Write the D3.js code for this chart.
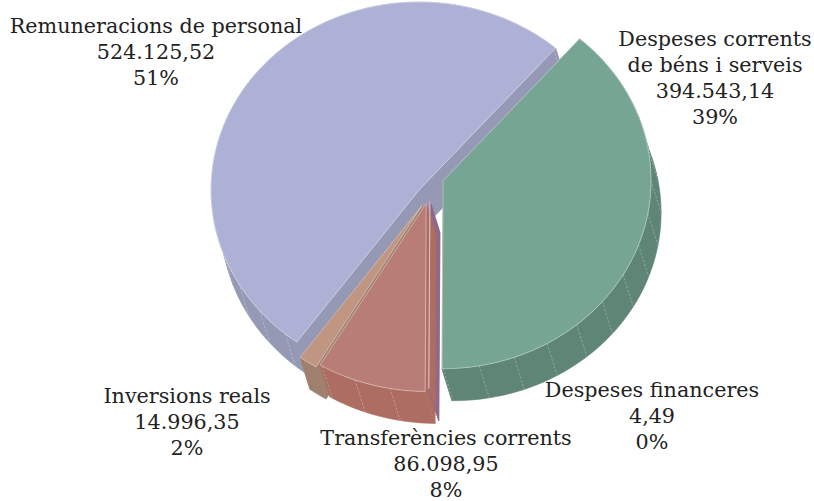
<!DOCTYPE html>
<html>
    <head>
        <meta charset="utf-8">
        <title></title>
        <script src="https://d3js.org/d3.v7.min.js"></script>
    </head>

    <body style="margin:0; background:#fff">
        <svg id="pie3d" width="814" height="501"></svg>
    </body>

    <script>

        // data, clockwise from the first slice
        var categories = ["Remuneracions de personal", "Despeses corrents de béns i serveis", "Despeses financeres", "Transferències corrents", "Inversions reals"]
        var values = [524125.52, 394543.14, 4.49, 86098.95, 14996.35]
        // label lines as shown next to each slice
        var labelLines = [["Remuneracions de personal"], ["Despeses corrents", "de béns i serveis"], ["Despeses financeres"], ["Transferències corrents"], ["Inversions reals"]]

        // colours (top face, side face)
        var topColors = ["#adb1d5", "#76a593", "#9a6f8f", "#b97d77", "#c09683"]
        var sideColors = ["#9599b5", "#5e8575", "#926888", "#ad6d62", "#9f7f6d"]

        // pie geometry
        var cx = 430, cy = 188
        var rx = 208, ry = 188
        var depth = [10, 32]
        // explosion, with a small lift for slices on the right (view rotation)
        var explodeX = 14, explodeY = 12.5, explodeLift = 12.5
        var firstAngle = 216

        // label anchors (centre of first line)
        var labelPos = [[156, 25], [715, 38], [652, 389], [446, 437], [187, 395]]

        var svg = d3.select("#pie3d")

        var total = d3.sum(values)
        var locale = d3.formatLocale({decimal: ",", thousands: ".", grouping: [3], currency: ["", ""]})
        var fmt = locale.format(",.2f")

        // whole percentages that add up to 100 (largest remainder)
        var raw = values.map(function(v) { return v / total * 100 })
        var pct = raw.map(Math.floor)
        var left = 100 - d3.sum(pct)
        d3.range(values.length)
        .sort(function(a, b) { return (raw[b] - pct[b]) - (raw[a] - pct[a]) })
        .slice(0, left)
        .forEach(function(i) { pct[i] += 1 })

        var pie = d3.pie()
        .sort(null)
        .startAngle(firstAngle * Math.PI / 180)
        .endAngle((firstAngle + 360) * Math.PI / 180)
        .value(function(d) { return d })

        var arcs = pie(values)

        // point on the tilted rim for angle a (clockwise from top)
        function rim(c, a) {
            return [c[0] + rx * Math.sin(a), c[1] - ry * Math.cos(a)]
        }
        function down(p) {
            return [p[0] + depth[0], p[1] + depth[1]]
        }

        var faces = []
        var tops = []
        var labels = []

        arcs.forEach(function(d, i) {
            var mid = (d.startAngle + d.endAngle) / 2
            var c = [cx + explodeX * Math.sin(mid), cy - explodeY * Math.cos(mid) - explodeLift * Math.sin(mid)]

            // sample the arc, breaking at every 10 degrees for the facets
            var step = 10 * Math.PI / 180
            var angles = [d.startAngle]
            var a = Math.ceil(d.startAngle / step + 1e-6) * step
            while (a < d.endAngle - 1e-6) { angles.push(a); a += step }
            angles.push(d.endAngle)

            var pts = []
            for (var k = 0; k < angles.length - 1; k++) {
                var a0 = angles[k], a1 = angles[k + 1]
                var n = Math.max(1, Math.ceil((a1 - a0) / (2 * Math.PI / 180)))
                var seg = []
                for (var j = 0; j <= n; j++) seg.push(rim(c, a0 + (a1 - a0) * j / n))
                pts = pts.concat(seg.slice(0, n))
                // outer side facet
                var poly = seg.concat(seg.slice().reverse().map(down))
                faces.push({poly: poly, fill: sideColors[i], key: d3.mean(seg, function(p) { return p[1] }) + 20, edge: k > 0 ? [seg[0], down(seg[0])] : null})
            }
            pts.push(rim(c, d.endAngle))

            // radial faces
            var ps = rim(c, d.startAngle), pe = rim(c, d.endAngle)
            faces.push({poly: [c, ps, down(ps), down(c)], fill: sideColors[i], key: (c[1] + ps[1]) / 2, edge: null})
            faces.push({poly: [c, pe, down(pe), down(c)], fill: sideColors[i], key: (c[1] + pe[1]) / 2, edge: null})

            tops.push({poly: [c].concat(pts), fill: topColors[i]})

            labels.push({x: labelPos[i][0], y: labelPos[i][1], lines: labelLines[i].concat([fmt(d.data), pct[i] + "%"])})
        })

        var line = d3.line()

        // sides back to front, then the top faces
        faces.sort(function(a, b) { return a.key - b.key })

        var g = svg.append("g")

        g.selectAll("path.side")
        .data(faces)
        .enter()
        .append("path")
        .attr("class", "side")
        .attr("d", function(f) { return line(f.poly) + "Z" })
        .attr("fill", function(f) { return f.fill })
        .attr("stroke", function(f) { return f.fill })
        .attr("stroke-width", 0.6)
        .attr("stroke-linejoin", "round")

        g.selectAll("path.facet")
        .data(faces.filter(function(f) { return f.edge }))
        .enter()
        .append("path")
        .attr("class", "facet")
        .attr("d", function(f) { return line(f.edge) })
        .attr("stroke", "rgba(255,255,255,0.4)")
        .attr("stroke-width", 0.7)
        .attr("stroke-dasharray", "2,2")

        g.selectAll("path.top")
        .data(tops)
        .enter()
        .append("path")
        .attr("class", "top")
        .attr("d", function(f) { return line(f.poly) + "Z" })
        .attr("fill", function(f) { return f.fill })
        .attr("stroke", "rgba(255,255,255,0.55)")
        .attr("stroke-width", 0.7)
        .attr("stroke-linejoin", "round")

        // labels
        var t = svg.selectAll("text.lab")
        .data(labels)
        .enter()
        .append("text")
        .attr("class", "lab")
        .attr("x", function(d) { return d.x })
        .attr("y", function(d) { return d.y + 7.5 })
        .attr("text-anchor", "middle")
        .style("font-family", "'DejaVu Serif'")
        .style("font-size", "20.7px")
        .attr("fill", "#222")

        t.selectAll("tspan")
        .data(function(d) { return d.lines.map(function(l) { return {x: d.x, text: l} }) })
        .enter()
        .append("tspan")
        .attr("x", function(l) { return l.x })
        .attr("dy", function(l, j) { return j === 0 ? 0 : 26.3 })
        .text(function(l) { return l.text })
    </script>
</html>
